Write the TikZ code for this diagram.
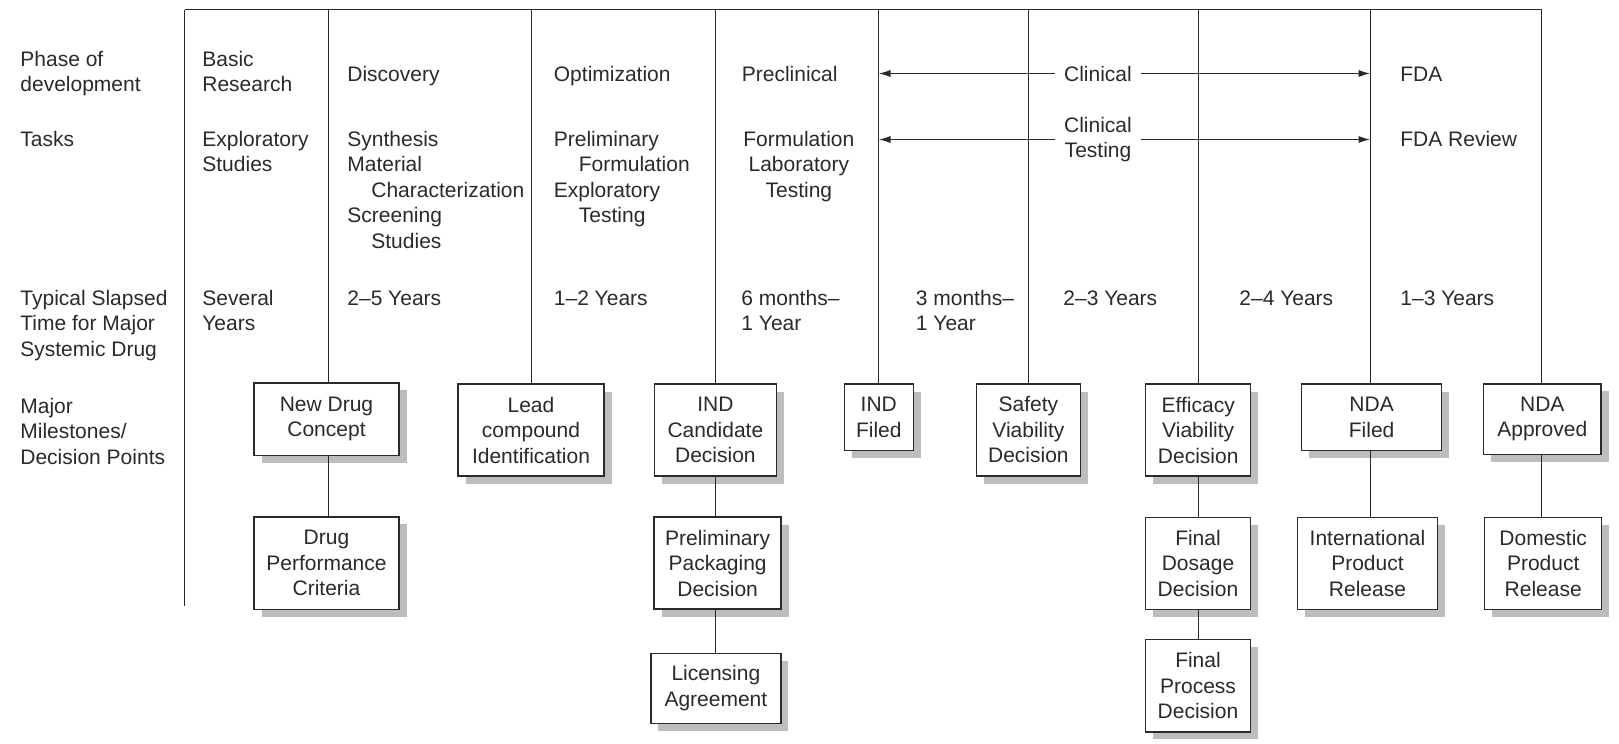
\documentclass[tikz,border=0pt]{standalone}
\usepackage{fontspec}
\setmainfont{Liberation Sans}
\usetikzlibrary{arrows.meta,shadows}

\definecolor{ink}{HTML}{2A2A2A}
\definecolor{shade}{HTML}{BDBDBF}

\begin{document}
\begin{tikzpicture}[x=0.5pt,y=-0.5pt,
  every node/.style={font=\fontsize{10.5}{12.75}\selectfont, text=ink, inner sep=0pt},
  % multi-line labels are placed by the baseline of their last line
  lbl/.style={anchor=base west, align=left},
  rule/.style={draw=ink, line width=0.85pt},
  ms/.style={draw=ink, line width=0.75pt, fill=white, align=center,
    drop shadow={shadow xshift=3.75pt, shadow yshift=-3.75pt, fill=shade, opacity=1}},
  boxdim/.style 2 args={minimum width=#1*0.5pt, minimum height=#2*0.5pt},
  tip/.style={-{Latex[length=6pt,width=3.6pt]}}
]
\useasboundingbox (0,0) rectangle (1619,744);

% column rules along the top edge
\coordinate (v0) at (184.5,9.5);
\coordinate (v1) at (328.5,9.5);
\coordinate (v2) at (531.5,9.5);
\coordinate (v3) at (715.5,9.5);
\coordinate (v4) at (878.5,9.5);
\coordinate (v5) at (1028.5,9.5);
\coordinate (v6) at (1198.5,9.5);
\coordinate (v7) at (1370.5,9.5);
\coordinate (v8) at (1541.5,9.5);
\coordinate (lb) at (184.5,606);

% row headings
\node[lbl] (hphase) at (20,91.5) {Phase of\\development};
\node[lbl] (htask) at (20,146) {Tasks};
\node[lbl] (htime) at (20,356) {Typical Slapsed\\Time for Major\\Systemic Drug};
\node[lbl] (hmile) at (20,464) {Major\\Milestones/\\Decision Points};

% phases
\node[lbl] (p1) at (202,91.5) {Basic\\Research};
\node[lbl] (p2) at (347,81) {Discovery};
\node[lbl] (p3) at (553.5,81) {Optimization};
\node[lbl] (p4) at (741.5,81) {Preclinical};
\node (clin) at (1098,73.5) [inner xsep=4.5pt] {Clinical};
\node[lbl] (p6) at (1400,81) {FDA};

% tasks
\node[lbl] (t1) at (202,171.5) {Exploratory\\Studies};
\node[lbl] (t2) at (347,248) {Synthesis\\Material\\\hspace*{12pt}Characterization\\Screening\\\hspace*{12pt}Studies};
\node[lbl] (t3) at (553.5,222.5) {Preliminary\\\hspace*{12.5pt}Formulation\\Exploratory\\\hspace*{12.5pt}Testing};
\node[anchor=base west, align=center] (t4) at (743,197) {Formulation\\Laboratory\\Testing};
\node (clint) at (1098,139.5) [inner xsep=4.5pt, align=center] {Clinical\\Testing};
\node[lbl] (t6) at (1400,146) {FDA Review};

% elapsed times
\node[lbl] (y1) at (202,330.5) {Several\\Years};
\node[lbl] (y2) at (347,305) {2–5 Years};
\node[lbl] (y3) at (553.5,305) {1–2 Years};
\node[lbl] (y4) at (741,330.5) {6 months–\\1 Year};
\node[lbl] (y5) at (915.5,330.5) {3 months–\\1 Year};
\node[lbl] (y6) at (1063,305) {2–3 Years};
\node[lbl] (y7) at (1239,305) {2–4 Years};
\node[lbl] (y8) at (1400,305) {1–3 Years};

% milestone boxes
\node[ms, boxdim={145}{72.5}] (ndc) at (326.5,419.2) {New Drug\\Concept};
\node[ms, boxdim={145}{92.5}] (dpc) at (326.5,563) {Drug\\Performance\\Criteria};
\node[ms, boxdim={146}{92}] (lead) at (531,430) {Lead\\compound\\Identification};
\node[ms, boxdim={122}{92}] (indc) at (715.4,430) {IND\\Candidate\\Decision};
\node[ms, boxdim={127}{92}] (ppd) at (717.6,563.2) {Preliminary\\Packaging\\Decision};
\node[ms, boxdim={130}{70}] (lic) at (715.9,688.3) {Licensing\\Agreement};
\node[ms, boxdim={69}{66.5}] (indf) at (878.8,417.3) {IND\\Filed};
\node[ms, boxdim={104}{92}] (svd) at (1028.4,430) {Safety\\Viability\\Decision};
\node[ms, boxdim={105}{92}] (evd) at (1198.2,430) {Efficacy\\Viability\\Decision};
\node[ms, boxdim={105}{92}] (fdd) at (1198,563.3) {Final\\Dosage\\Decision};
\node[ms, boxdim={105}{92.5}] (fpd) at (1198,685.5) {Final\\Process\\Decision};
\node[ms, boxdim={140}{66.5}] (ndaf) at (1371.6,417.3) {NDA\\Filed};
\node[ms, boxdim={140}{92}] (ipr) at (1367.5,563.3) {International\\Product\\Release};
\node[ms, boxdim={117.5}{70.5}] (ndaa) at (1542.3,419.2) {NDA\\Approved};
\node[ms, boxdim={117}{92}] (dpr) at (1543.2,563.3) {Domestic\\Product\\Release};

% frame and column rules
\draw[rule] (v0) -- (v8);
\draw[rule] (v0) -- (lb);
\draw[rule] (v1) -- (v1 |- ndc.north);
\draw[rule] (v2) -- (v2 |- lead.north);
\draw[rule] (v3) -- (v3 |- indc.north);
\draw[rule] (v4) -- (v4 |- indf.north);
\draw[rule] (v5) -- (v5 |- svd.north);
\draw[rule] (v6) -- (v6 |- evd.north);
\draw[rule] (v7) -- (v7 |- ndaf.north);
\draw[rule] (v8) -- (v8 |- ndaa.north);

% links between stacked milestones
\draw[rule] (v1 |- ndc.south) -- (v1 |- dpc.north);
\draw[rule] (v3 |- indc.south) -- (v3 |- ppd.north);
\draw[rule] (v3 |- ppd.south) -- (v3 |- lic.north);
\draw[rule] (v6 |- evd.south) -- (v6 |- fdd.north);
\draw[rule] (v6 |- fdd.south) -- (v6 |- fpd.north);
\draw[rule] (v7 |- ndaf.south) -- (v7 |- ipr.north);
\draw[rule] (v8 |- ndaa.south) -- (v8 |- dpr.north);

% span of the clinical phase
\draw[rule, tip] (clin.west) -- (clin.west -| v4);
\draw[rule, tip] (clin.east) -- (clin.east -| v7);
\draw[rule, tip] (clint.west) -- (clint.west -| v4);
\draw[rule, tip] (clint.east) -- (clint.east -| v7);
\end{tikzpicture}
\end{document}
